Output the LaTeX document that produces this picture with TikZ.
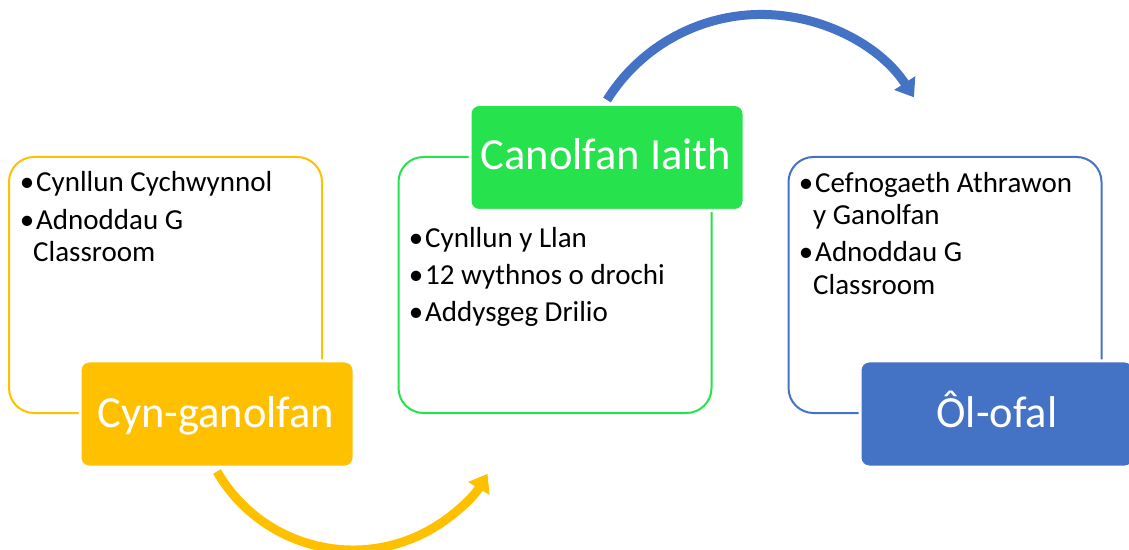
\documentclass[tikz,border=0pt]{standalone}
\usepackage{fontspec}
\setmainfont{Carlito}
\usetikzlibrary{arrows.meta}
\definecolor{cgold}{HTML}{FFC000}
\definecolor{cgreen}{HTML}{26E24C}
\definecolor{cblue}{HTML}{4472C4}
\begin{document}
\begin{tikzpicture}[x=1pt,y=1pt,
  outbox/.style={draw=#1, line width=2pt, rounded corners=25pt, fill=white, minimum width=313pt, minimum height=256pt, inner sep=0pt},
  fillbox/.style={fill=#1, draw=white, line width=3pt, rounded corners=9pt, minimum width=274pt, minimum height=106pt, inner sep=0pt},
  title/.style={text=white, font=\fontsize{44.5}{50}\selectfont, anchor=base, inner sep=0pt},
  itemtxt/.style={font=\fontsize{29}{32}\selectfont, anchor=base west, inner sep=0pt},
  bul/.style={font=\fontsize{29}{32}\selectfont, anchor=base east, inner sep=0pt, xshift=-1.5pt},
  arcarrow/.style={draw=#1, line width=9pt, -{Triangle[width=24pt,length=17pt]}}
]
\useasboundingbox (0,0) rectangle (1129,549);

% outline boxes
\node[outbox=cgold]  (yo) at (165.5,264) {};
\node[outbox=cgreen] (go) at (555,264) {};
\node[outbox=cblue]  (bo) at (945,264) {};

% filled boxes
\node[fillbox=cgold]  (yf) at (217,135) {};
\node[fillbox=cgreen] (gf) at (607,391.5) {};
\node[fillbox=cblue]  (bf) at (997,135) {};

% titles
\node[title] (yt) at (216,122) {Cyn-ganolfan};
\node[title] (gt) at (606,379) {Canolfan Iaith};
\node[title] (bt) at (997,122) {Ôl-ofal};

% yellow items
\node[itemtxt] (y1) at (36,357) {Cynllun Cychwynnol};
\node[bul] (y1b) at (y1.base west) {•};
\node[itemtxt] (y2) at (36,319) {Adnoddau G};
\node[bul] (y2b) at (y2.base west) {•};
\node[itemtxt] (y3) at (33,287) {Classroom};

% green items
\node[itemtxt] (g1) at (425,301) {Cynllun y Llan};
\node[bul] (g1b) at (g1.base west) {•};
\node[itemtxt] (g2) at (425,264) {12 wythnos o drochi};
\node[bul] (g2b) at (g2.base west) {•};
\node[itemtxt] (g3) at (425,227) {Addysgeg Drilio};
\node[bul] (g3b) at (g3.base west) {•};

% blue items
\node[itemtxt] (b1) at (815,356) {Cefnogaeth Athrawon};
\node[bul] (b1b) at (b1.base west) {•};
\node[itemtxt] (b2) at (813,324) {y Ganolfan};
\node[itemtxt] (b3) at (815,287) {Adnoddau G};
\node[bul] (b3b) at (b3.base west) {•};
\node[itemtxt] (b4) at (813,254) {Classroom};

% arrows
\draw[arcarrow=cgold] ([yshift=-3pt]yf.south) arc[start angle=-150, end angle=-31, radius=157];
\draw[arcarrow=cblue] ([yshift=3pt]gf.north) arc[start angle=148, end angle=33, radius=182];
\end{tikzpicture}
\end{document}
